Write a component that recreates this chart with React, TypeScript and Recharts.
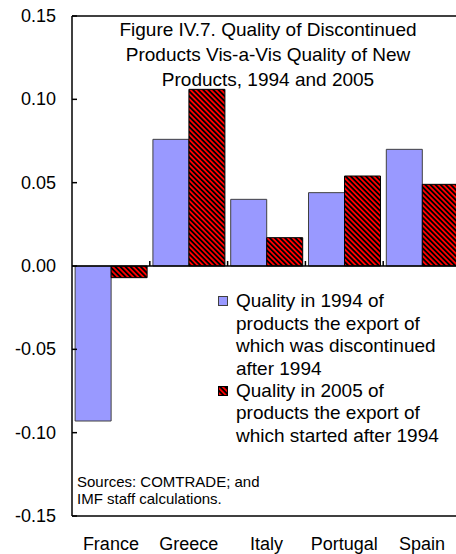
import React from "react";
import { Bar, BarChart, Legend, ReferenceLine, XAxis, YAxis } from "recharts";

const countries = ["France", "Greece", "Italy", "Portugal", "Spain"];
const quality1994 = [-0.093, 0.076, 0.04, 0.044, 0.07];
const quality2005 = [-0.007, 0.106, 0.017, 0.054, 0.049];
const yTicks = [-0.15, -0.1, -0.05, 0, 0.05, 0.1, 0.15];

const seriesNames = [
  "Quality in 1994 of products the export of which was discontinued after 1994",
  "Quality in 2005 of products the export of which started after 1994",
];
const legendLines = [
  ["Quality in 1994 of", "products the export of", "which was discontinued", "after 1994"],
  ["Quality in 2005 of", "products the export of", "which started after 1994"],
];
const titleLines = [
  "Figure IV.7. Quality of Discontinued",
  "Products Vis-a-Vis Quality of New",
  "Products, 1994 and 2005",
];
const sourceLines = ["Sources: COMTRADE; and", "IMF staff calculations."];

const data = countries.map((country, i) => ({
  country,
  q1994: quality1994[i],
  q2005: quality2005[i],
}));

const FONT = "'Liberation Sans', Arial, sans-serif";
const legendStrokes = ["#404040", "#000"];

// y ticks: label left of axis, short tick mark pointing into the plot
const YTick = ({ x, y, payload }: any) => (
  <g>
    <line x1={x + 16} x2={x + 21} y1={y} y2={y} stroke="#000" strokeWidth={1.5} />
    <text x={x} y={y} textAnchor="end" dominantBaseline="central" fontSize={18} fill="#000">
      {Number(payload.value).toFixed(2)}
    </text>
  </g>
);

// zero line with little upward marks at the category boundaries
const ZeroLine = (props: any) => {
  const { x1, x2, y1 } = props;
  const step = (x2 - x1) / countries.length;
  return (
    <g>
      <line x1={x1} x2={x2} y1={y1} y2={y1} stroke="#000" strokeWidth={1.5} />
      {countries.slice(1).map((c, i) => {
        const x = x1 + step * (i + 1);
        return <line key={c} x1={x} x2={x} y1={y1} y2={y1 - 5} stroke="#000" strokeWidth={1.5} />;
      })}
    </g>
  );
};

const LegendBox = ({ payload }: any) => (
  <div style={{ fontSize: 19, lineHeight: "17px", color: "#000", fontFamily: FONT }}>
    {(payload || []).map((entry: any, i: number) => (
      <div key={entry.value} style={{ position: "relative", paddingLeft: 18, marginTop: i === 0 ? 0 : 4.5 }}>
        <svg width={10} height={10} style={{ position: "absolute", left: 0, top: 4 }}>
          <rect x={0.5} y={0.5} width={9} height={9} fill={entry.color} stroke={legendStrokes[i]} />
        </svg>
        {legendLines[i].map((line, j) => (
          <div key={line} style={{ whiteSpace: "nowrap", marginTop: j === 0 ? 0 : 5.7 }}>{line}</div>
        ))}
      </div>
    ))}
  </div>
);

export default function App() {
  return (
    <div
      style={{
        position: "absolute",
        left: 0,
        top: 0,
        width: 456,
        height: 554,
        overflow: "hidden",
        background: "#fff",
        fontFamily: FONT,
      }}
    >
      <BarChart
        width={470}
        height={554}
        data={data}
        margin={{ top: 16, right: 9, left: 0, bottom: 0 }}
        barCategoryGap="4%"
        barGap={0}
      >
        <defs>
          <pattern id="redHatch" patternUnits="userSpaceOnUse" width={3.6} height={3.6} patternTransform="rotate(-45)">
            <rect width={3.6} height={3.6} fill="#FF0000" />
            <rect width={1.8} height={3.6} fill="#000" />
          </pattern>
        </defs>
        <XAxis
          dataKey="country"
          interval={0}
          height={38}
          axisLine={{ stroke: "#000", strokeWidth: 1.5 }}
          tickLine={false}
          tickSize={0}
          tickMargin={21}
          tick={{ fontSize: 18, fill: "#000" }}
        />
        <YAxis
          width={72}
          domain={[-0.15, 0.15]}
          ticks={yTicks}
          interval={0}
          axisLine={{ stroke: "#000", strokeWidth: 1.5 }}
          tickLine={false}
          tickSize={0}
          tickMargin={16}
          tick={YTick}
        />
        <Legend
          layout="horizontal"
          verticalAlign="middle"
          align="center"
          wrapperStyle={{ left: 218, top: 292, width: 240 }}
          content={LegendBox}
        />
        <Bar
          dataKey="q1994"
          name={seriesNames[0]}
          fill="#9999FF"
          stroke="#404040"
          strokeWidth={1}
          isAnimationActive={false}
        />
        <Bar
          dataKey="q2005"
          name={seriesNames[1]}
          fill="url(#redHatch)"
          stroke="#000"
          strokeWidth={1}
          isAnimationActive={false}
        />
        <ReferenceLine y={0} shape={ZeroLine} />
        <ReferenceLine y={0.15} stroke="#000" strokeWidth={1.5} />
      </BarChart>
      <div
        style={{
          position: "absolute",
          left: 68,
          top: 17,
          width: 400,
          textAlign: "center",
          fontSize: 19,
          lineHeight: "25px",
          color: "#000",
          pointerEvents: "none",
        }}
      >
        {titleLines.map((line) => (
          <div key={line}>{line}</div>
        ))}
      </div>
      <div
        style={{
          position: "absolute",
          left: 77,
          top: 473,
          fontSize: 15,
          lineHeight: "17px",
          color: "#000",
          pointerEvents: "none",
        }}
      >
        {sourceLines.map((line) => (
          <div key={line}>{line}</div>
        ))}
      </div>
    </div>
  );
}
